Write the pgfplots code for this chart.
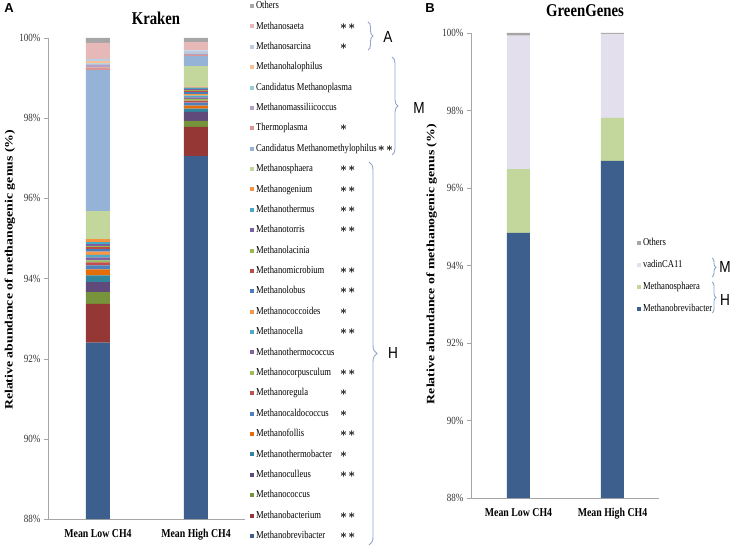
\documentclass[border=0pt]{standalone}
\usepackage{fontspec}
\setmainfont[FakeStretch=0.82]{Liberation Serif}
\newfontfamily\ylabfont[FakeStretch=1.22]{Liberation Serif}
\newfontfamily\lsans[FakeStretch=0.85]{Liberation Sans}
\newfontfamily\lsansw{Liberation Sans}
\usepackage{pgfplots}
\pgfplotsset{compat=1.18}
\usepackage{pgfplotstable}
\usetikzlibrary{decorations.pathreplacing}

% Excel-like palette
\definecolor{k01}{HTML}{3C5F8E}
\definecolor{k02}{HTML}{953735}
\definecolor{k03}{HTML}{77933C}
\definecolor{k04}{HTML}{604A7B}
\definecolor{k05}{HTML}{31859C}
\definecolor{k06}{HTML}{E46C0A}
\definecolor{k07}{HTML}{4F81BD}
\definecolor{k08}{HTML}{C0504D}
\definecolor{k09}{HTML}{9BBB59}
\definecolor{k10}{HTML}{8064A2}
\definecolor{k11}{HTML}{4BACC6}
\definecolor{k12}{HTML}{F79646}
\definecolor{k13}{HTML}{4A7EBB}
\definecolor{k14}{HTML}{BE4B48}
\definecolor{k15}{HTML}{98B954}
\definecolor{k16}{HTML}{7D60A0}
\definecolor{k17}{HTML}{46AAC5}
\definecolor{k18}{HTML}{F69240}
\definecolor{k19}{HTML}{C3D69B}
\definecolor{k20}{HTML}{95B3D7}
\definecolor{k21}{HTML}{D99694}
\definecolor{k22}{HTML}{B3A2C7}
\definecolor{k23}{HTML}{93CDDD}
\definecolor{k24}{HTML}{FAC090}
\definecolor{k25}{HTML}{B9CDE5}
\definecolor{k26}{HTML}{E6B9B8}
\definecolor{k27}{HTML}{A6A6A6}
\definecolor{vad}{HTML}{E4DFEC}
\definecolor{brc}{HTML}{8EA6C9}

% Kraken, stacked from the bottom (Methanobrevibacter) to the top (Others)
\pgfplotstableread{
x Bre Bac Coc Cul Tba Fol Cal Reg Cor Tco Cel Cds Lob Mic Lac Tor The Gen Sph Mmp Tpl Mas Mpl Hal Sar Sae Oth
1 92.40 0.97 0.29 0.25 0.17 0.15 0.10 0.07 0.05 0.08 0.06 0.08 0.06 0.05 0.03 0.05 0.05 0.07 0.70 3.52 0.07 0.07 0.03 0.05 0.06 0.40 0.12
2 97.05 0.73 0.15 0.23 0.08 0.07 0.08 0.05 0.04 0.04 0.04 0.04 0.05 0.03 0.02 0.03 0.03 0.03 0.51 0.25 0.03 0.03 0.01 0.01 0.06 0.21 0.10
}\kraken

% GreenGenes
\pgfplotstableread{
x Bre Sph Vad Oth
1 94.84 1.65 3.44 0.07
2 96.70 1.11 2.17 0.02
}\greengenes

\newcommand{\lgx}[1]{\makebox[84pt][l]{#1}}
\newcommand{\sone}{{\fontsize{13}{13}\selectfont\boldmath$\ast$}}
\newcommand{\stwo}{{\fontsize{13}{13}\selectfont\boldmath$\ast$\hspace{1.5pt}$\ast$}}
\newcommand{\kp}[3]{\addplot[fill=#2,draw=none] table[x=x,y=#1]{\kraken};\addlegendentry{#3}}
\newcommand{\gp}[3]{\addplot[fill=#2,draw=none] table[x=x,y=#1]{\greengenes};\addlegendentry{#3}}

\pgfplotsset{
  panel/.style={
    anchor=south west, scale only axis,
    ybar stacked, ymin=88, ymax=100,
    ytick={88,90,...,100},
    yticklabel={\pgfmathprintnumber{\tick}\%},
    /pgf/number format/assume math mode=true,
    xtick={1,2}, xticklabels={Mean Low CH4,Mean High CH4},
    axis x line*=bottom, axis y line*=left,
    axis line style={draw=black!35},
    tick align=outside, major tick length=4pt,
    ytick style={draw=black!35}, xtick style={draw=none},
    yticklabel style={font=\fontsize{11}{11}\selectfont, text=black!80},
    xticklabel style={font=\bfseries\fontsize{12}{12}\selectfont, yshift=-3pt},
    ylabel={Relative abundance of methanogenic genus (\%)},
    ylabel style={font=\ylabfont\bfseries\fontsize{11.3}{11.3}\selectfont, anchor=center},
    legend cell align=left, reverse legend,
    legend style={anchor=north west, draw=none, fill=none, inner sep=0pt, outer sep=0pt,
      font=\fontsize{10.5}{10.5}\selectfont,
      nodes={inner sep=0pt, text height=7.5pt, text depth=2.2pt},
      /tikz/every odd column/.append style={column sep=2pt}},
  }
}

\begin{document}
\begin{tikzpicture}[x=1pt,y=1pt]
\useasboundingbox (0,0) rectangle (736,547);

\begin{axis}[panel, at={(48pt,28pt)}, width=197pt, height=481pt,
  bar width=24pt, xmin=0.49, xmax=2.5,
  ylabel style={at={(axis description cs:-0.193,0.518)}},
  legend style={at={(1.0254,1.0766)}, row sep=10.68pt},
  legend image code/.code={\fill[#1] (0pt,-2pt) rectangle (4pt,2pt);},
]
\kp{Bre}{k01}{\lgx{Methanobrevibacter}\stwo}
\kp{Bac}{k02}{\lgx{Methanobacterium}\stwo}
\kp{Coc}{k03}{Methanococcus}
\kp{Cul}{k04}{\lgx{Methanoculleus}\stwo}
\kp{Tba}{k05}{\lgx{Methanothermobacter}\sone}
\kp{Fol}{k06}{\lgx{Methanofollis}\stwo}
\kp{Cal}{k07}{\lgx{Methanocaldococcus}\sone}
\kp{Reg}{k08}{\lgx{Methanoregula}\sone}
\kp{Cor}{k09}{\lgx{Methanocorpusculum}\stwo}
\kp{Tco}{k10}{Methanothermococcus}
\kp{Cel}{k11}{\lgx{Methanocella}\stwo}
\kp{Cds}{k12}{\lgx{Methanococcoides}\sone}
\kp{Lob}{k13}{\lgx{Methanolobus}\stwo}
\kp{Mic}{k14}{\lgx{Methanomicrobium}\stwo}
\kp{Lac}{k15}{Methanolacinia}
\kp{Tor}{k16}{\lgx{Methanotorris}\stwo}
\kp{The}{k17}{\lgx{Methanothermus}\stwo}
\kp{Gen}{k18}{\lgx{Methanogenium}\stwo}
\kp{Sph}{k19}{\lgx{Methanosphaera}\stwo}
\kp{Mmp}{k20}{Candidatus Methanomethylophilus\hspace{1pt}\stwo}
\kp{Tpl}{k21}{\lgx{Thermoplasma}\sone}
\kp{Mas}{k22}{Methanomassiliicoccus}
\kp{Mpl}{k23}{Candidatus Methanoplasma}
\kp{Hal}{k24}{Methanohalophilus}
\kp{Sar}{k25}{\lgx{Methanosarcina}\sone}
\kp{Sae}{k26}{\lgx{Methanosaeta}\stwo}
\kp{Oth}{k27}{Others}
\end{axis}

\begin{axis}[panel, at={(471pt,49pt)}, width=188pt, height=465pt,
  bar width=23pt, xmin=0.495, xmax=2.495,
  ylabel style={at={(axis description cs:-0.210,0.503)}},
  legend style={at={(0.883,0.5582)}, row sep=12.2pt},
  legend image code/.code={\fill[#1] (0pt,-2pt) rectangle (4pt,2pt);},
]
\gp{Bre}{k01}{Methanobrevibacter}
\gp{Sph}{k19}{Methanosphaera}
\gp{Vad}{vad}{vadinCA11}
\gp{Oth}{k27}{Others}
\end{axis}

% titles and panel letters
\node[font=\bfseries\fontsize{18}{18}\selectfont] at (156,529) {Kraken};
\node[font=\bfseries\fontsize{18}{18}\selectfont] at (585,536) {GreenGenes};
\node[font=\lsansw\bfseries\fontsize{13}{13}\selectfont] at (9,539) {A};
\node[font=\lsansw\bfseries\fontsize{13}{13}\selectfont] at (430,539) {B};

% group braces
\draw[brc, line width=0.9pt, decorate, decoration={brace,amplitude=5pt}] (368,525) -- (368,497);
\node[font=\lsans\fontsize{16}{16}\selectfont] at (388,510) {A};
\draw[brc, line width=0.9pt, decorate, decoration={brace,amplitude=6pt}] (392,490) -- (392,392);
\node[font=\lsans\fontsize{16}{16}\selectfont] at (419,439) {M};
\draw[brc, line width=0.9pt, decorate, decoration={brace,amplitude=8pt}] (369,385) -- (369,2);
\node[font=\lsans\fontsize{16}{16}\selectfont] at (393,194) {H};

\draw[brc, line width=0.9pt, decorate, decoration={brace,amplitude=4pt}] (712,289) -- (712,270);
\node[font=\lsans\fontsize{16}{16}\selectfont] at (725,280) {M};
\draw[brc, line width=0.9pt, decorate, decoration={brace,amplitude=4pt}] (712,265) -- (712,234);
\node[font=\lsans\fontsize{16}{16}\selectfont] at (725,247) {H};
\end{tikzpicture}
\end{document}
